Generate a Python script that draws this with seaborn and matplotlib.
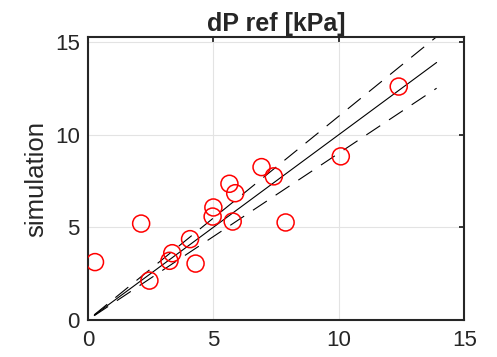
import matplotlib
matplotlib.use('Agg')
import matplotlib.pyplot as plt
import numpy as np
import pandas as pd
import seaborn as sns

# measured reference vs simulated pressure drop
ref_kpa = [0.28, 2.12, 2.45, 3.25, 3.36, 4.07, 4.29, 4.97, 5.00, 5.64,
           5.77, 5.87, 6.92, 7.41, 7.88, 10.08, 12.39]
sim_kpa = [3.12, 5.20, 2.12, 3.19, 3.60, 4.36, 3.04, 5.58, 6.07, 7.35,
           5.31, 6.84, 8.25, 7.75, 5.26, 8.83, 12.60]

# parity line and +/-10 % band
line_x = [0.25, 13.9]
band = [1.0, 1.1, 0.9]

x_ticks = [0, 5, 10, 15]
y_ticks = [0, 5, 10, 15]


def main():
    sns.set_style('white')
    plt.rcParams['font.family'] = ['Liberation Sans', 'DejaVu Sans']

    fig = plt.figure(figsize=(4.97, 3.57), dpi=100)
    ax = fig.add_axes([0.177, 0.104, 0.757, 0.791])

    edge = '#262626'
    ax.grid(True, color='#e3e3e3', lw=0.8, zorder=0)

    lx = np.array(line_x)
    for f in band:
        ls = '-' if f == 1.0 else (0, (15, 9.5))
        sns.lineplot(x=lx, y=lx * f, color='black', lw=0.8, linestyle=ls, ax=ax, zorder=2)

    df = pd.DataFrame({'ref': ref_kpa, 'sim': sim_kpa})
    sns.scatterplot(data=df, x='ref', y='sim', s=150, facecolors='none',
                    edgecolor='#ff0000', linewidth=1.1, ax=ax, zorder=3)

    ax.set_xlim(0, 15)
    ax.set_ylim(0, 15.25)
    ax.set_xticks(x_ticks)
    ax.set_yticks(y_ticks)
    ax.set_xlabel('')
    ax.set_ylabel('simulation', fontsize=18.5, color=edge, labelpad=5)
    ax.set_title('dP ref [kPa]', fontsize=18, fontweight='bold', pad=5)

    ax.tick_params(direction='in', length=3.5, width=1.3, colors=edge,
                   labelsize=16, top=True, right=True, pad=6)
    ax.tick_params(axis='x', pad=7)
    for sp in ax.spines.values():
        sp.set_visible(True)
        sp.set_color(edge)
        sp.set_linewidth(1.5)

    fig.savefig('out.png', dpi=100)
    plt.close(fig)


if __name__ == '__main__':
    main()
